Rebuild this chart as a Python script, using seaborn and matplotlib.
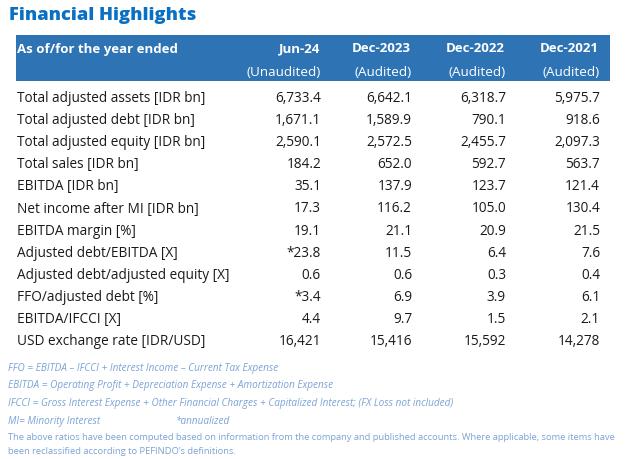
import matplotlib
matplotlib.use('Agg')
import matplotlib.pyplot as plt
import seaborn as sns
from matplotlib.patches import Rectangle

# --- data ---
title = 'Financial Highlights'
header_label = 'As of/for the year ended'
periods = ['Jun-24', 'Dec-2023', 'Dec-2022', 'Dec-2021']
audit_status = ['(Unaudited)', '(Audited)', '(Audited)', '(Audited)']
row_labels = [
    'Total adjusted assets [IDR bn]',
    'Total adjusted debt [IDR bn]',
    'Total adjusted equity [IDR bn]',
    'Total sales [IDR bn]',
    'EBITDA [IDR bn]',
    'Net income after MI [IDR bn]',
    'EBITDA margin [%]',
    'Adjusted debt/EBITDA [X]',
    'Adjusted debt/adjusted equity [X]',
    'FFO/adjusted debt [%]',
    'EBITDA/IFCCI [X]',
    'USD exchange rate [IDR/USD]',
]
jun24 = ['6,733.4', '1,671.1', '2,590.1', '184.2', '35.1', '17.3', '19.1', '*23.8', '0.6', '*3.4', '4.4', '16,421']
dec23 = ['6,642.1', '1,589.9', '2,572.5', '652.0', '137.9', '116.2', '21.1', '11.5', '0.6', '6.9', '9.7', '15,416']
dec22 = ['6,318.7', '790.1', '2,455.7', '592.7', '123.7', '105.0', '20.9', '6.4', '0.3', '3.9', '1.5', '15,592']
dec21 = ['5,975.7', '918.6', '2,097.3', '563.7', '121.4', '130.4', '21.5', '7.6', '0.4', '6.1', '2.1', '14,278']
footnotes = [
    'FFO = EBITDA \u2013 IFCCI + Interest Income \u2013 Current Tax Expense',
    'EBITDA = Operating Profit + Depreciation Expense + Amortization Expense',
    'IFCCI = Gross Interest Expense + Other Financial Charges + Capitalized Interest; (FX Loss not included)',
    'MI= Minority Interest',
]
annualized_note = '*annualized'
disclaimer = ['The above ratios have been computed based on information from the company and published accounts. Where applicable, some items have',
              "been reclassified according to PEFINDO\u2019s definitions."]

sns.set_theme(style='white')
plt.rcParams['font.family'] = ['Open Sans', 'DejaVu Sans']

blue = '#2E74B5'
title_blue = '#0B6FC3'
note_blue = '#7BA3D6'
text_dark = '#1a1a1a'

fig = plt.figure(figsize=(6.3, 4.59), dpi=100)
ax = fig.add_axes([0, 0, 1, 1])
ax.set_xlim(0, 630)
ax.set_ylim(459, 0)
ax.axis('off')

ax.text(9, 15.5, title, fontsize=13.2, fontweight='heavy', color=title_blue, va='center', ha='left')

ax.add_patch(Rectangle((16, 35), 594, 46, color=blue, lw=0))
ax.text(17, 49, header_label, fontsize=9.5, fontweight='bold', color='white', va='center')
col_right = [320, 411, 505, 599]
for x, p, a in zip(col_right, periods, audit_status):
    ax.text(x, 49, p, fontsize=9.5, fontweight='bold', color='white', va='center', ha='right')
    ax.text(x + 1, 72, a, fontsize=9.7, color='white', va='center', ha='right')

cols = [jun24, dec23, dec22, dec21]
for i, lab in enumerate(row_labels):
    y = 98.5 + i * 22.1
    ax.text(17, y, lab, fontsize=9.8, color=text_dark, va='center')
    for x, col in zip(col_right, cols):
        ax.text(x + 1, y, col[i], fontsize=9.8, color=text_dark, va='center', ha='right')

for i, f in enumerate(footnotes):
    ax.text(8, 368 + i * 17.8, f, fontsize=7.2, style='italic', color=note_blue, va='center')
ax.text(176, 421.4, annualized_note, fontsize=7.2, style='italic', color=note_blue, va='center')
for i, d in enumerate(disclaimer):
    ax.text(8, 437 + i * 14.5, d, fontsize=6.75, color=note_blue, va='center')

fig.savefig('out.png', dpi=100)
